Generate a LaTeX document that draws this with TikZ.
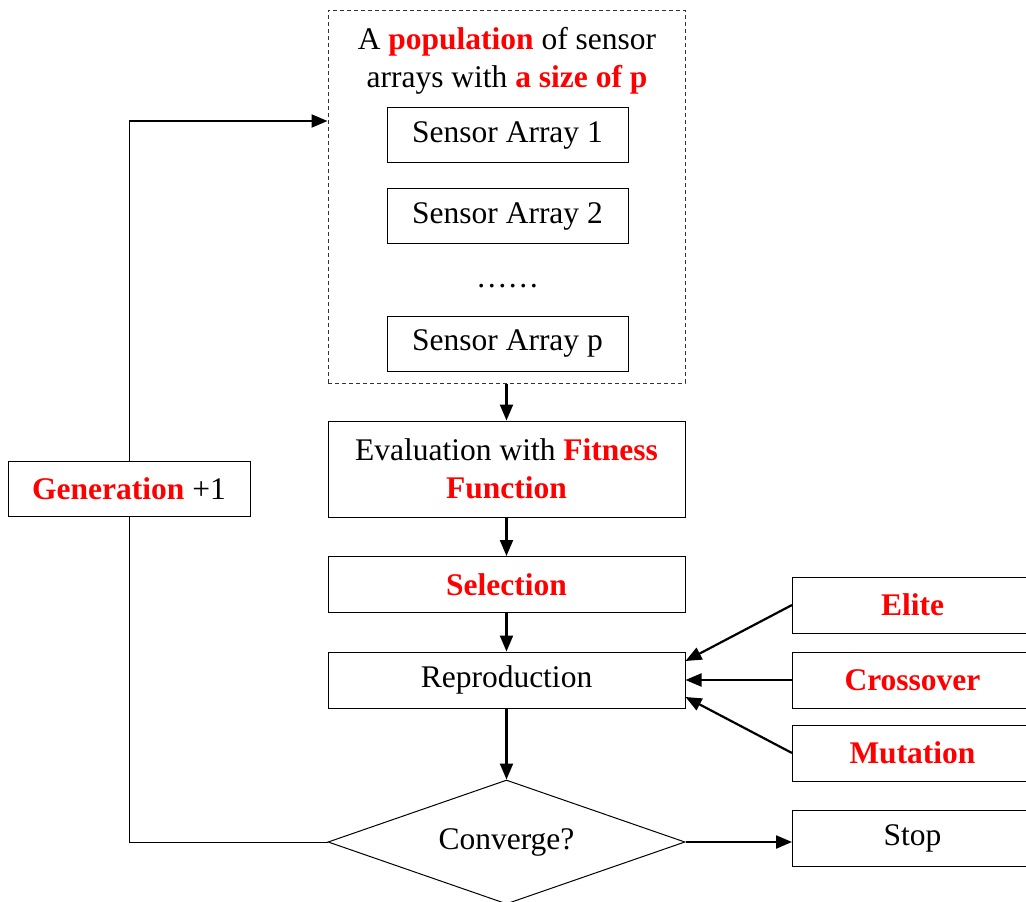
\documentclass[tikz,border=0pt]{standalone}
\usepackage{fontspec}
\setmainfont{Liberation Serif}
\usetikzlibrary{shapes.geometric, arrows.meta, positioning}
\definecolor{gared}{RGB}{255,0,0}
\newcommand{\hl}[1]{\textcolor{gared}{\textbf{#1}}}

\begin{document}
\begin{tikzpicture}[
  x=1pt, y=-1pt,
  every node/.style={font=\fontsize{31.5}{38}\selectfont, inner sep=0pt, align=center},
  stage/.style={rectangle, draw=black, line width=1pt, minimum width=357pt, minimum height=56pt},
  arraybox/.style={rectangle, draw=black, line width=1pt, minimum width=241pt, minimum height=55pt},
  opbox/.style={rectangle, draw=black, line width=1pt, minimum width=240pt, minimum height=56pt, anchor=west},
  flow/.style={draw, line width=2.2pt, -{Triangle[length=16pt,width=13pt]}},
]
  \useasboundingbox (0,0) rectangle (1026,902);

  % population of sensor arrays
  \node[draw=black!80, line width=1pt, dash pattern=on 4pt off 3pt, minimum width=357pt, minimum height=373pt] (pop) at (506.5,196.5) {};
  \node (poptitle) at (507,61) {A \hl{population} of sensor\\arrays with \hl{a size of p}};
  \node[arraybox] (arr1) at (507.5,135) {Sensor Array 1};
  \node[arraybox] (arr2) at (507.5,216) {Sensor Array 2};
  \node (dots) at (507.5,286) {……};
  \node[arraybox] (arrp) at (507.5,343.5) {Sensor Array p};

  % main flow
  \node[stage, minimum height=96pt] (eval) at (506.5,469) {Evaluation with \hl{Fitness}\\\hl{Function}};
  \node[stage] (sel) at (506.5,584.5) {\hl{Selection}};
  \node[stage] (repro) at (506.5,680) {Reproduction};
  \node[diamond, aspect=2.88, draw=black, line width=1pt, minimum width=357pt, minimum height=124pt] (conv) at (506.5,842) {Converge?};

  % operators
  \node[opbox] (elite) at (792,605) {\hl{Elite}};
  \node[opbox] (cross) at (792,680) {\hl{Crossover}};
  \node[opbox] (mut) at (792,753) {\hl{Mutation}};
  \node[opbox] (stop) at (792,838.5) {Stop};

  \node[rectangle, draw=black, line width=1pt, minimum width=242pt, minimum height=55pt] (gen) at (129,488.5) {\hl{Generation} +1};
  \coordinate (back) at (129,121);

  \draw[flow] (pop.south) -- (eval.north);
  \draw[flow] (eval) -- (sel);
  \draw[flow] (sel) -- (repro);
  \draw[flow] (repro) -- (conv);
  \draw[flow] (elite.west) -- ([yshift=19pt]repro.east);
  \draw[flow] (cross.west) -- (repro.east);
  \draw[flow] (mut.west) -- ([yshift=-17pt]repro.east);
  \draw[flow] (conv.east) -- (conv.east -| stop.west);

  % next generation loop
  \draw[line width=1pt] (conv.west) -| (gen.south);
  \draw[line width=1pt] (gen.north) -- (back);
  \draw[flow] (back) -- (back -| pop.west);
\end{tikzpicture}
\end{document}
